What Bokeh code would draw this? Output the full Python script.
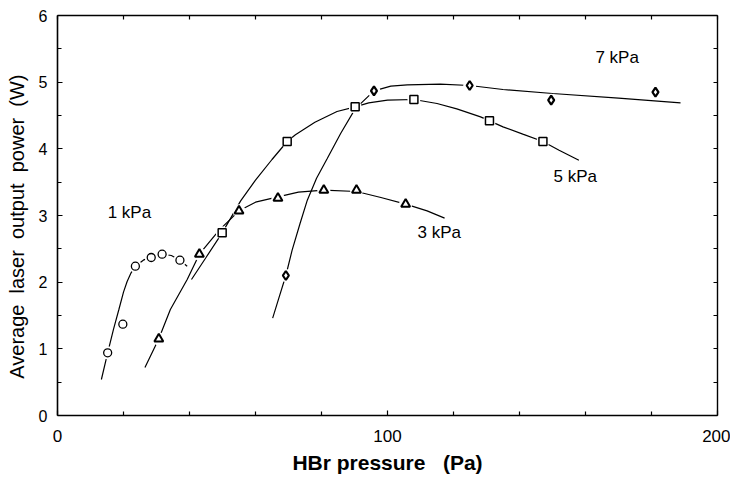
from bokeh.plotting import figure
from bokeh.models import LinearAxis, FixedTicker, Range1d, ColumnDataSource
from bokeh.core.properties import value
from bokeh.embed import file_html
from bokeh.resources import INLINE

# ---- measured data points ----
p1_x = [15.2, 19.8, 23.6, 28.4, 31.7, 37.1]
p1_y = [0.94, 1.37, 2.24, 2.37, 2.42, 2.33]

p3_x = [30.7, 43.0, 55.0, 66.8, 80.7, 90.6, 105.5]
p3_y = [1.15, 2.42, 3.07, 3.26, 3.38, 3.38, 3.17]

p5_x = [49.9, 69.6, 90.2, 108.0, 130.9, 147.1]
p5_y = [2.74, 4.11, 4.63, 4.74, 4.42, 4.11]

p7_x = [69.2, 95.9, 124.9, 149.6, 181.2]
p7_y = [2.10, 4.87, 4.95, 4.73, 4.85]

# ---- hand-drawn fit curves ----
c1_x = [13.3, 15.2, 17.0, 18.6, 20.0, 21.1, 22.3, 23.6, 26.0, 28.4, 31.7, 34.5, 37.1, 39.3]
c1_y = [0.54, 0.94, 1.30, 1.59, 1.85, 2.01, 2.14, 2.24, 2.33, 2.38, 2.42, 2.40, 2.33, 2.24]

c3_x = [26.5, 30.7, 34.2, 39.3, 43.0, 49.0, 55.0, 60.0, 66.8, 73.0, 80.7, 90.6, 98.0, 105.5, 112.0, 117.3]
c3_y = [0.72, 1.15, 1.59, 2.04, 2.42, 2.78, 3.07, 3.20, 3.28, 3.35, 3.38, 3.36, 3.27, 3.17, 3.07, 2.96]

c5_x = [40.6, 45.0, 49.9, 55.5, 60.0, 65.0, 69.6, 72.1, 78.0, 84.7, 90.2, 94.3, 100.0, 108.0,
        115.0, 121.0, 128.2, 135.0, 141.0, 147.1, 152.0, 158.0]
c5_y = [2.04, 2.37, 2.74, 3.22, 3.53, 3.84, 4.11, 4.21, 4.40, 4.56, 4.63, 4.69, 4.73, 4.74,
        4.68, 4.60, 4.48, 4.33, 4.22, 4.11, 3.98, 3.83]

c7_x = [65.2, 67.0, 69.2, 71.1, 73.5, 75.7, 78.5, 81.7, 85.8, 90.2, 95.9, 101.0, 106.0, 116.0,
        124.9, 135.0, 150.0, 170.0, 188.8]
c7_y = [1.46, 1.75, 2.10, 2.48, 2.88, 3.23, 3.56, 3.85, 4.23, 4.60, 4.87, 4.94, 4.96, 4.97,
        4.95, 4.89, 4.83, 4.76, 4.69]

label_text = ["1 kPa", "3 kPa", "5 kPa", "7 kPa"]
label_x = [15.2, 109.1, 150.3, 163.0]
label_y = [3.04, 2.75, 3.59, 5.37]

x_major = [0, 100, 200]
x_minor = [20, 40, 60, 80, 120, 140, 160, 180]
y_major = [0, 1, 2, 3, 4, 5, 6]
y_minor = [0.5, 1.5, 2.5, 3.5, 4.5, 5.5]

FONT = "Liberation Sans"
NB = "\u00a0"

p = figure(width=730, height=482, output_backend="svg", toolbar_location=None,
           x_range=Range1d(0, 200), y_range=Range1d(0, 6),
           min_border_left=57, min_border_right=13, min_border_top=15, min_border_bottom=67,
           x_axis_label="HBr pressure" + NB * 3 + "(Pa)",
           y_axis_label="Average" + NB + " laser" + NB + " output" + NB + " power" + NB + " (W)" + NB * 4)
p.grid.visible = False
p.outline_line_color = None
p.background_fill_color = "white"
p.border_fill_color = "white"

xa = p.xaxis[0]
xa.ticker = FixedTicker(ticks=x_major, minor_ticks=x_minor)
ya = p.yaxis[0]
ya.ticker = FixedTicker(ticks=y_major, minor_ticks=y_minor)

for ax in (xa, ya):
    ax.axis_line_color = "black"
    ax.axis_line_width = 1.6
    ax.major_tick_in = 5
    ax.major_tick_out = 0
    ax.minor_tick_in = 4
    ax.minor_tick_out = 0
    ax.major_tick_line_color = "black"
    ax.minor_tick_line_color = "black"
    ax.major_tick_line_width = 1.2
    ax.minor_tick_line_width = 1.2
    ax.major_label_text_color = "black"
    ax.major_label_text_font = FONT
    ax.axis_label_text_color = "black"
    ax.axis_label_text_font = FONT

xa.major_label_text_font_size = "17px"
xa.major_label_standoff = 14
xa.axis_label_text_font_size = "21px"
xa.axis_label_text_font_style = "bold"
xa.axis_label_standoff = 6

ya.major_label_text_font_size = "16px"
ya.major_label_standoff = 10
ya.axis_label_text_font_size = "20px"
ya.axis_label_text_font_style = "normal"
ya.axis_label_standoff = 8

top = LinearAxis(ticker=FixedTicker(ticks=[], minor_ticks=x_major + x_minor))
right = LinearAxis(ticker=FixedTicker(ticks=[], minor_ticks=y_major + y_minor))
for ax in (top, right):
    ax.axis_line_color = "black"
    ax.axis_line_width = 1.4
    ax.minor_tick_in = 4
    ax.minor_tick_out = 0
    ax.major_tick_in = 0
    ax.major_tick_out = 0
    ax.minor_tick_line_color = "black"
    ax.minor_tick_line_width = 1.2
    ax.major_label_text_font_size = "0px"
    ax.major_label_standoff = 0
p.add_layout(top, "above")
p.add_layout(right, "right")

LW = 1.2
for cx, cy in ((c1_x, c1_y), (c3_x, c3_y), (c5_x, c5_y), (c7_x, c7_y)):
    p.line(cx, cy, line_color="black", line_width=LW)

# white halos that break the curves at the markers
for px, py in ((p1_x, p1_y), (p3_x, p3_y), (p5_x, p5_y), (p7_x, p7_y)):
    p.scatter(px, py, size=13, marker="circle", fill_color="white", line_color=None)

p.scatter(p1_x, p1_y, marker="circle", size=8, fill_color="white", line_color="black", line_width=1.3)
p.scatter(p3_x, p3_y, marker="triangle", size=9, fill_color="white", line_color="black", line_width=2.0)
p.scatter(p5_x, p5_y, marker="square", size=8, fill_color="white", line_color="black", line_width=1.5)
p.scatter(p7_x, p7_y, marker="diamond", size=9, fill_color="white", line_color="black", line_width=2.2)

src = ColumnDataSource(dict(x=label_x, y=label_y, t=label_text))
p.text(x="x", y="y", text="t", source=src, text_font=value(FONT), text_font_size="17px",
       text_color="black", text_align="left", text_baseline="middle")

open("out.html", "w").write(file_html(p, INLINE))
